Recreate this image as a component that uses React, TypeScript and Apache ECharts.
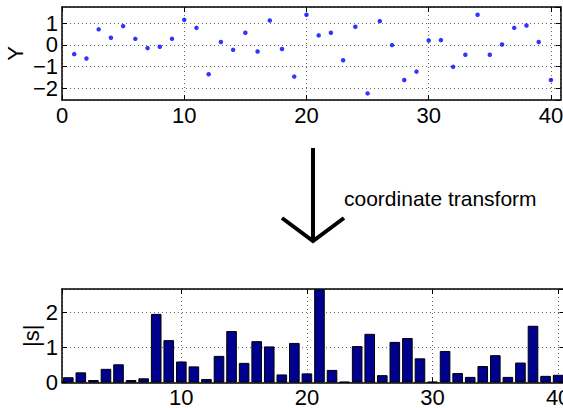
import React, { useEffect, useRef } from "react";
import * as echarts from "echarts";

const scatterX = [1,2,3,4,5,6,7,8,9,10,11,12,13,14,15,16,17,18,19,20,21,22,23,24,25,26,27,28,29,30,31,32,33,34,35,36,37,38,39,40];
const scatterY = [-0.43,-0.63,0.72,0.33,0.87,0.28,-0.15,-0.09,0.28,1.16,0.79,-1.36,0.13,-0.23,0.56,-0.31,1.13,-0.19,-1.47,1.40,0.44,0.56,-0.71,0.84,-2.25,1.10,-0.01,-1.63,-1.24,0.20,0.22,-1.02,-0.46,1.40,-0.46,0.02,0.79,0.90,0.13,-1.63];
const barX = scatterX;
const barY = [0.15,0.29,0.07,0.39,0.52,0.07,0.12,1.96,1.21,0.60,0.46,0.10,0.76,1.47,0.56,1.18,1.03,0.23,1.13,0.26,2.66,0.36,0.02,1.04,1.39,0.21,1.16,1.27,0.69,0.02,0.90,0.27,0.16,0.47,0.78,0.16,0.57,1.62,0.19,0.22];
const topYLabel = "Y";
const bottomYLabel = "|s|";
const transformText = "coordinate transform";

const FONT = "Liberation Sans, Arial, Helvetica, sans-serif";

export default function App() {
  const ref = useRef<HTMLDivElement>(null);
  useEffect(() => {
    if (!ref.current) return;
    const chart = echarts.init(ref.current, undefined, { renderer: "svg" });
    const axisLine = { show: true, onZero: false, lineStyle: { color: "#000", width: 1.5 } };
    const tick = { show: true, inside: true, length: 5, lineStyle: { color: "#000", width: 1 } };
    const split = { show: true, lineStyle: { color: "#666", width: 1, type: [1, 3] } };
    const lbl = { fontSize: 22, color: "#000", fontFamily: FONT };
    const boxX = (gridIndex: number, min: number, max: number) => ({
      type: "value", gridIndex, position: "top", min, max, splitNumber: 4,
      axisLine, axisTick: tick, axisLabel: { show: false }, splitLine: { show: false },
    });
    const boxY = (gridIndex: number, min: number, max: number, splitNumber: number) => ({
      type: "value", gridIndex, position: "right", min, max, splitNumber,
      axisLine, axisTick: tick, axisLabel: { show: false }, splitLine: { show: false },
    });
    chart.setOption({
      animation: false,
      backgroundColor: "#fff",
      textStyle: { fontFamily: FONT },
      grid: [
        { left: 62, top: 7, width: 498.7, height: 93, outerBoundsMode: "none" },
        { left: 62, top: 289, width: 502.4, height: 93.5, outerBoundsMode: "none" },
      ],
      xAxis: [
        {
          type: "value", gridIndex: 0, min: 0, max: 40.8, splitNumber: 4,
          axisLine, axisTick: tick, splitLine: split,
          axisLabel: { ...lbl, margin: 4, showMaxLabel: false },
        },
        {
          type: "value", gridIndex: 1, min: 0.5, max: 40.5, splitNumber: 4,
          axisLine, axisTick: tick, splitLine: split,
          axisLabel: { ...lbl, margin: 4, showMinLabel: false, showMaxLabel: false },
        },
        boxX(0, 0, 40.8),
        boxX(1, 0.5, 40.5),
      ],
      yAxis: [
        {
          type: "value", gridIndex: 0, min: -2.556, max: 1.756, splitNumber: 4,
          axisLine, axisTick: tick, splitLine: split,
          axisLabel: { ...lbl, margin: 4, showMinLabel: false, showMaxLabel: false,
            formatter: (v: number) => (v < 0 ? "\u2212" + Math.abs(v) : String(v)) },
          name: topYLabel, nameLocation: "middle", nameRotate: 90, nameGap: 36,
          nameMoveOverlap: false,
          nameTextStyle: { ...lbl },
        },
        {
          type: "value", gridIndex: 1, min: 0, max: 2.67, splitNumber: 3,
          axisLine, axisTick: tick, splitLine: split,
          axisLabel: { ...lbl, margin: 4, showMaxLabel: false },
          name: bottomYLabel, nameLocation: "middle", nameRotate: 90, nameGap: 20,
          nameMoveOverlap: false,
          nameTextStyle: { ...lbl },
        },
        boxY(0, -2.556, 1.756, 4),
        boxY(1, 0, 2.67, 3),
      ],
      series: [
        {
          type: "scatter", xAxisIndex: 0, yAxisIndex: 0,
          data: scatterX.map((x, i) => [x, scatterY[i]]),
          symbol: "circle", symbolSize: 4.5,
          itemStyle: { color: "#0000ff" },
        },
        {
          type: "bar", xAxisIndex: 1, yAxisIndex: 1,
          data: barX.map((x, i) => [x, barY[i]]),
          barWidth: 10.6,
          itemStyle: { color: "#00008f", borderColor: "#000", borderWidth: 1 },
        },
      ],
      graphic: [
        { type: "line", shape: { x1: 313, y1: 148, x2: 313, y2: 240 }, style: { stroke: "#000", lineWidth: 4 } },
        { type: "polyline", shape: { points: [[282, 218], [313, 241], [344, 218]] }, style: { stroke: "#000", lineWidth: 4, fill: "none" } },
        { type: "text", x: 344, y: 198, style: { text: transformText, font: "21px " + FONT, fill: "#000", textVerticalAlign: "middle", verticalAlign: "middle" } },
      ],
    });
    return () => chart.dispose();
  }, []);
  return <div ref={ref} style={{ position: "absolute", left: 0, top: 0, width: 563, height: 408 }} />;
}
